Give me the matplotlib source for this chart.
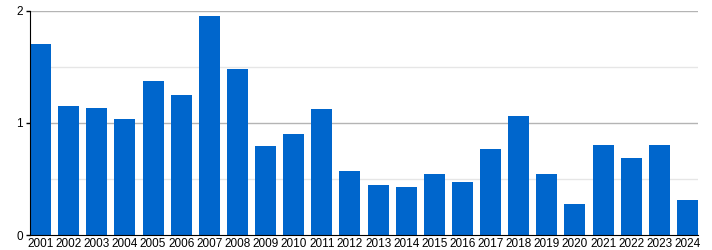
import matplotlib
matplotlib.use("Agg")
import matplotlib.pyplot as plt

# data
years = [str(y) for y in range(2001, 2025)]
values = [1.70, 1.15, 1.13, 1.03, 1.37, 1.25, 1.955, 1.48, 0.795, 0.90, 1.12, 0.57,
          0.45, 0.43, 0.54, 0.475, 0.77, 1.06, 0.54, 0.28, 0.80, 0.69, 0.80, 0.31]
major_ticks = [0, 1, 2]
minor_ticks = [0.5, 1.5]

barColor = "#0066cc"
plt.rcParams["font.family"] = ["Liberation Sans", "DejaVu Sans"]

fig = plt.figure(figsize=(7.12, 2.5), dpi=100)
ax = fig.add_axes([30/712, 15/250, 668/712, 224.3/250])

x = list(range(len(years)))
ax.bar(x, values, 0.75, color=barColor, zorder=3)
ax.set_xlim(-0.375, len(years) - 1 + 0.375)
ax.set_ylim(0, 2)

# grid lines
for t in major_ticks[1:]:
    ax.axhline(t, color="#b4b4b4", linewidth=1, zorder=1)
for t in minor_ticks:
    ax.axhline(t, color="#e6e6e6", linewidth=1, zorder=1)

ax.set_yticks(major_ticks)
ax.set_yticklabels([str(t) for t in major_ticks], fontsize=8.5)
ax.set_xticks(x)
ax.set_xticklabels(years, fontsize=8.5)
ax.tick_params(axis="x", length=0, pad=2)
ax.tick_params(axis="y", length=3, pad=2, width=1)

for s in ["top", "right"]:
    ax.spines[s].set_visible(False)
ax.spines["left"].set_color("black")
ax.spines["bottom"].set_color("black")
ax.spines["left"].set_zorder(4)
ax.spines["bottom"].set_zorder(4)

fig.savefig("out.png", dpi=100)
